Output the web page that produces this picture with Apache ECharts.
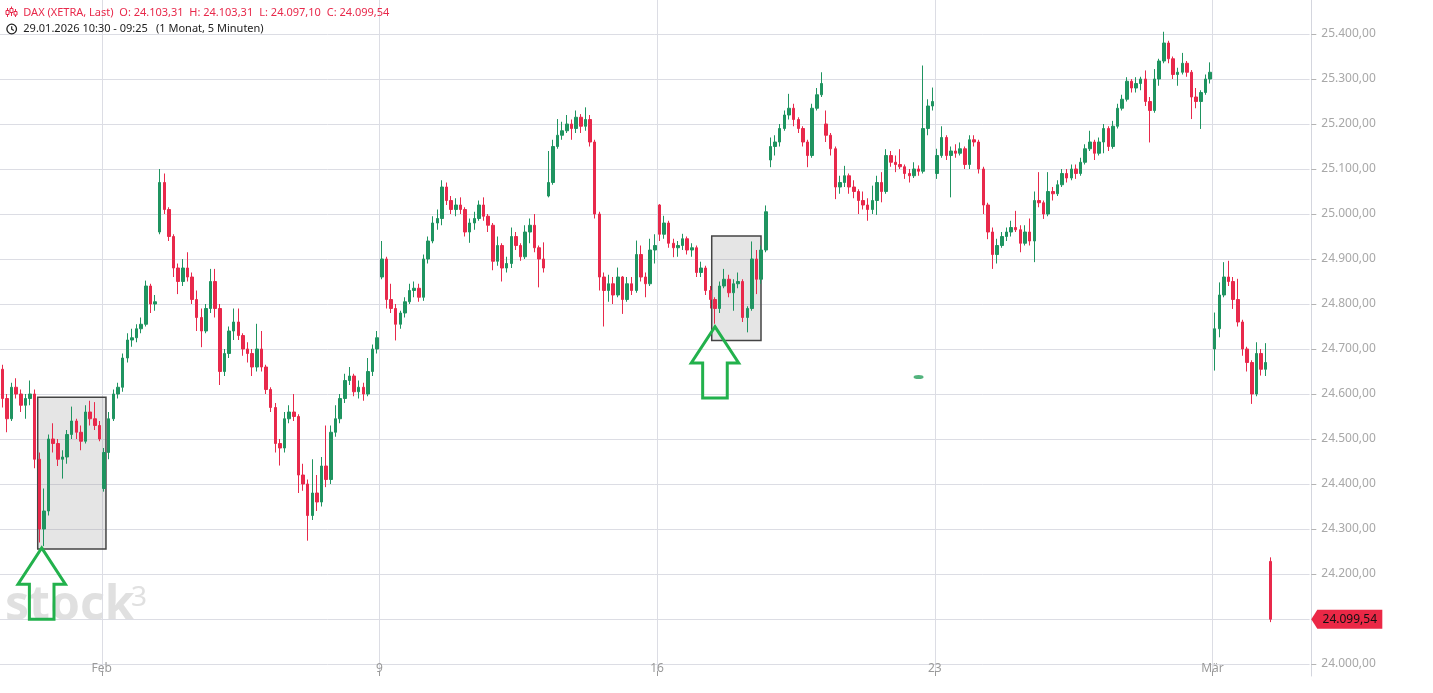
<!DOCTYPE html>
<html><head><meta charset="utf-8">
<script src="https://cdn.jsdelivr.net/npm/echarts@6/dist/echarts.min.js"></script>
<style>html,body{margin:0;padding:0;background:#fff;}#c{width:1433px;height:693px;}</style>
</head><body><div id="c"></div>
<script>
// ---- candle data: [open, close, low, high], ~42 minute candles ----
const d0129 = [[24655,24590,24570,24665],[24590,24545,24515,24600],[24545,24615,24540,24625],[24615,24600,24590,24635],[24600,24575,24560,24610],[24575,24590,24545,24600],[24590,24600,24575,24630],[24600,24455,24435,24610],[24455,24300,24270,24470],[24300,24340,24262,24390]];
const d0130 = [[24340,24500,24330,24510],[24500,24490,24470,24535],[24490,24455,24440,24500],[24455,24460,24412,24475],[24460,24510,24445,24520],[24510,24540,24500,24572],[24540,24515,24500,24545],[24515,24495,24475,24530],[24495,24560,24490,24575],[24560,24545,24530,24585],[24545,24530,24520,24582],[24530,24500,24495,24540]];
const d0202 = [[24390,24470,24383,24480],[24470,24545,24455,24560],[24545,24600,24540,24610],[24600,24615,24590,24625],[24615,24680,24605,24690],[24680,24720,24670,24735],[24720,24725,24705,24745],[24725,24745,24715,24755],[24745,24755,24735,24770],[24755,24840,24750,24852],[24840,24800,24780,24845],[24800,24805,24785,24820]];
const d0203 = [[24960,25070,24955,25100],[25070,25010,25000,25090],[25010,24950,24940,25015],[24950,24880,24860,24955],[24880,24850,24822,24890],[24850,24880,24840,24900],[24880,24860,24850,24915],[24860,24810,24800,24870],[24810,24770,24740,24830],[24770,24740,24704,24790],[24740,24790,24735,24800],[24790,24850,24780,24878]];
const d0204 = [[24850,24790,24770,24878],[24790,24650,24620,24800],[24650,24690,24640,24700],[24690,24740,24680,24750],[24740,24760,24720,24790],[24760,24730,24720,24790],[24730,24700,24685,24735],[24700,24690,24670,24715],[24690,24660,24640,24700],[24660,24700,24650,24756],[24700,24660,24650,24740],[24660,24610,24600,24665]];
const d0205 = [[24610,24570,24560,24615],[24570,24490,24470,24580],[24490,24480,24441,24500],[24480,24545,24470,24560],[24545,24560,24535,24575],[24560,24550,24540,24600],[24550,24420,24380,24555],[24420,24400,24385,24445],[24400,24330,24274,24410],[24330,24380,24320,24455],[24380,24360,24340,24420],[24360,24440,24350,24460]];
const d0206 = [[24440,24410,24393,24530],[24410,24515,24400,24530],[24515,24545,24505,24575],[24545,24590,24535,24600],[24590,24630,24580,24645],[24630,24640,24620,24660],[24640,24605,24595,24645],[24605,24615,24590,24630],[24615,24600,24585,24625],[24600,24650,24595,24680],[24650,24700,24640,24710],[24700,24725,24690,24740]];
const d0209 = [[24860,24900,24855,24940],[24900,24810,24790,24905],[24810,24790,24780,24845],[24790,24755,24719,24800],[24755,24780,24745,24785],[24780,24805,24770,24815],[24805,24830,24800,24845],[24830,24835,24815,24850],[24835,24815,24805,24845],[24815,24900,24807,24910],[24900,24940,24890,24950],[24940,24980,24935,24995]];
const d0210 = [[24980,24990,24965,25010],[24990,25060,24975,25075],[25060,25030,25020,25070],[25030,25010,25000,25040],[25010,25020,24995,25035],[25020,25010,25000,25037],[25010,24960,24950,25015],[24960,24980,24936,24990],[24980,24990,24965,25005],[24990,25020,24985,25030],[25020,24995,24985,25037],[24995,24975,24960,25000]];
const d0211 = [[24975,24895,24875,24980],[24895,24930,24885,24950],[24930,24880,24850,24935],[24880,24890,24870,24905],[24890,24950,24880,24970],[24950,24930,24920,24960],[24930,24905,24896,24935],[24905,24960,24900,24975],[24960,24975,24935,24990],[24975,24925,24915,25000],[24925,24900,24837,24930],[24900,24880,24870,24937]];
const d0212 = [[25040,25070,25037,25140],[25070,25150,25065,25165],[25150,25175,25145,25211],[25175,25185,25165,25205],[25185,25200,25180,25220],[25200,25190,25165,25210],[25190,25215,25180,25230],[25215,25195,25180,25222],[25195,25210,25185,25237],[25210,25160,25150,25220],[25160,25000,24990,25165],[25000,24860,24830,25005]];
const d0213 = [[24860,24830,24750,24870],[24830,24845,24805,24865],[24845,24820,24800,24860],[24820,24860,24815,24881],[24860,24810,24778,24862],[24810,24845,24805,24860],[24845,24830,24820,24860],[24830,24910,24825,24941],[24910,24860,24850,24930],[24860,24845,24815,24870],[24845,24920,24840,24945],[24920,24930,24890,24955]];
const d0216 = [[25020,24955,24940,25022],[24955,24980,24945,24996],[24980,24935,24925,24985],[24935,24925,24904,24945],[24925,24930,24905,24940],[24930,24945,24920,24956],[24945,24920,24910,24950],[24920,24925,24905,24935],[24925,24870,24860,24930],[24870,24880,24860,24894],[24880,24830,24820,24885],[24830,24810,24790,24840]];
const d0217 = [[24810,24790,24756,24815],[24790,24840,24780,24850],[24840,24855,24835,24878],[24855,24825,24815,24865],[24825,24845,24785,24855],[24845,24850,24835,24870],[24850,24770,24760,24855],[24770,24790,24737,24795],[24790,24900,24785,24939],[24900,24855,24822,24920],[24855,24920,24845,24930],[24920,25005,24915,25019]];
const d0218 = [[25120,25150,25104,25170],[25150,25160,25130,25175],[25160,25190,25150,25200],[25190,25220,25185,25230],[25220,25235,25210,25267],[25235,25210,25195,25245],[25210,25190,25180,25215],[25190,25160,25150,25195],[25160,25130,25104,25165],[25130,25235,25125,25245],[25235,25265,25230,25280],[25265,25290,25260,25315]];
const d0219 = [[25200,25175,25160,25230],[25175,25145,25130,25180],[25145,25060,25033,25150],[25060,25070,25045,25085],[25070,25085,25060,25107],[25085,25060,25045,25090],[25060,25050,25035,25075],[25050,25030,25000,25055],[25030,25020,25010,25050],[25020,25010,24985,25035],[25010,25030,25000,25063],[25030,25070,24998,25085]];
const d0220 = [[25070,25050,25026,25093],[25050,25130,25045,25144],[25130,25115,25105,25140],[25115,25110,25093,25130],[25110,25105,25100,25144],[25105,25090,25078,25110],[25090,25085,25070,25100],[25085,25100,25080,25115],[25100,25095,25085,25108],[25095,25190,25090,25330],[25190,25240,25175,25255],[25240,25250,25230,25281]];
const d0223 = [[25090,25130,25078,25145],[25130,25170,25125,25195],[25170,25130,25120,25175],[25130,25140,25037,25150],[25140,25135,25125,25155],[25135,25145,25130,25159],[25145,25110,25100,25150],[25110,25165,25100,25175],[25165,25160,25150,25175],[25160,25100,25090,25165],[25100,25020,25000,25105],[25020,24960,24944,25025]];
const d0224 = [[24960,24910,24878,24970],[24910,24930,24890,24945],[24930,24950,24925,24960],[24950,24960,24940,24970],[24960,24970,24950,24985],[24970,24965,24960,25007],[24965,24935,24915,24975],[24935,24960,24930,24975],[24960,24940,24930,24990],[24940,25030,24893,25050],[25030,25025,25015,25093],[25025,25000,24989,25030]];
const d0225 = [[25000,25050,24995,25093],[25050,25045,25030,25060],[25045,25065,25040,25075],[25065,25090,25060,25100],[25090,25080,25070,25100],[25080,25100,25075,25110],[25100,25090,25078,25110],[25090,25115,25085,25125],[25115,25145,25110,25155],[25145,25160,25140,25185],[25160,25135,25120,25165],[25135,25160,25130,25170]];
const d0226 = [[25160,25190,25135,25200],[25190,25150,25140,25195],[25150,25195,25145,25207],[25195,25235,25190,25245],[25235,25255,25230,25265],[25255,25295,25250,25304],[25295,25280,25270,25300],[25280,25290,25270,25304],[25290,25300,25275,25305],[25300,25250,25240,25319],[25250,25230,25159,25260],[25230,25300,25225,25322]];
const d0227 = [[25300,25340,25285,25345],[25340,25380,25335,25405],[25380,25345,25335,25385],[25345,25310,25300,25350],[25310,25315,25285,25325],[25315,25335,25310,25358],[25335,25315,25305,25340],[25315,25260,25211,25320],[25260,25250,25235,25280],[25250,25270,25189,25275],[25270,25300,25265,25310],[25300,25315,25290,25337]];
const d0302 = [[24700,24745,24652,24781],[24745,24820,24726,24848],[24820,24860,24815,24893],[24860,24850,24840,24896],[24850,24810,24789,24860],[24810,24760,24750,24856],[24760,24700,24685,24765],[24700,24670,24650,24705],[24670,24600,24578,24675],[24600,24690,24595,24715],[24690,24655,24641,24700],[24655,24670,24640,24713]];
const d0303 = [[24228,24099.54,24093,24237]];

const dayNames = ['29.01.','30.01.','02.02.','03.02.','04.02.','05.02.','06.02.','09.02.','10.02.','11.02.','12.02.','13.02.','16.02.','17.02.','18.02.','19.02.','20.02.','23.02.','24.02.','25.02.','26.02.','27.02.','02.03.','03.03.'];
const dayData = [d0129,d0130,d0202,d0203,d0204,d0205,d0206,d0209,d0210,d0211,d0212,d0213,d0216,d0217,d0218,d0219,d0220,d0223,d0224,d0225,d0226,d0227,d0302,d0303];

// x-axis tick labels
const xLabelDays = ['02.02.','09.02.','16.02.','23.02.','02.03.'];
const xLabelTexts = ['Feb','9','16','23','Mär'];

// header (last 5-minute candle) and range text
const headerTitle = 'DAX (XETRA, Last)';
const headerOHLC = [24103.31, 24103.31, 24097.10, 24099.54];
const headerRange = '29.01.2026 10:30 - 09:25';
const headerPeriod = '(1 Monat, 5 Minuten)';

// annotations: boxes [fromSlot, toSlot, topPrice, bottomPrice], arrows [tipSlot, tipPrice], stray tick [slot, price]
const boxes = [[7.65, 22.4, 24592.7, 24255.6],[153.3, 163.95, 24951, 24719]];
const arrows = [[8.51, 24258],[154.0, 24749.6]];
const strayTicks = [[198, 24638]];

// ---- build ----
const candles = [], cats = [];
dayData.forEach((d, i) => d.forEach((c, k) => { candles.push(c); cats.push(dayNames[i] + ' ' + k); }));
const TOTAL_SLOTS = 283;
let p = 0; while (cats.length < TOTAL_SLOTS) cats.push('pad ' + (p++));
const catsB = cats.concat(['pad end']);
const lastClose = candles[candles.length - 1][1];

function fmtDE(v) {
  const s = Number(v).toFixed(2); const parts = s.split('.');
  return parts[0].replace(/\B(?=(\d{3})+(?!\d))/g, '.') + ',' + parts[1];
}
function isLabelCat(name) { const a = name.split(' '); return a[1] === '0' && xLabelDays.indexOf(a[0]) >= 0; }

const UP = '#1f9460', DOWN = '#e8294b', RED_TXT = '#e8294b', GRIDC = '#dcdde4';
const PLOT_W = 1309.6;

function fracCoord(api, xv, yv) {
  const i = Math.floor(xv);
  const pt = api.coord([i, yv]);
  const bw = api.size([1, 0])[0];
  return [pt[0] + (xv - i) * bw, pt[1]];
}

const chart = echarts.init(document.getElementById('c'), null, {renderer: 'canvas'});
const FONT = '"Noto Sans", "Open Sans", sans-serif';

const option = {
  animation: false,
  backgroundColor: '#ffffff',
  grid: [
    {left: 0, width: PLOT_W, top: 34, height: 630, containLabel: false},
    {left: 0, width: PLOT_W, top: 0, height: 676, containLabel: false}
  ],
  xAxis: [
    {type: 'category', gridIndex: 0, data: cats, boundaryGap: true, show: false},
    {type: 'category', gridIndex: 1, data: catsB, boundaryGap: false,
     axisLine: {show: false},
     axisTick: {show: true, inside: true, length: 5, interval: (i, v) => isLabelCat(v), lineStyle: {color: '#9a9a9a'}},
     axisLabel: {show: true, inside: true, margin: 1, interval: (i, v) => isLabelCat(v),
       formatter: v => xLabelTexts[xLabelDays.indexOf(v.split(' ')[0])],
       color: '#9a9a9a', fontSize: 12, fontFamily: FONT},
     splitLine: {show: true, interval: (i, v) => isLabelCat(v), lineStyle: {color: GRIDC, width: 1}}
    }
  ],
  yAxis: [
    {type: 'value', gridIndex: 0, position: 'right', offset: 1.7, min: 24000, max: 25400, interval: 100,
     axisLine: {show: false},
     axisTick: {show: true, length: 5, lineStyle: {color: '#b4b4b4'}},
     axisLabel: {margin: 10, color: '#a8a8a8', fontSize: 12, fontFamily: FONT, padding: [4, 0, 0, 0], formatter: v => fmtDE(v)},
     splitLine: {show: true, lineStyle: {color: GRIDC, width: 1}}
    },
    {type: 'value', gridIndex: 1, position: 'right', offset: 1.7, min: 0, max: 1,
     axisLine: {show: true, lineStyle: {color: '#d4d6de'}},
     axisTick: {show: false}, axisLabel: {show: false}, splitLine: {show: false}
    }
  ],
  graphic: [
    // watermark
    {type: 'text', x: 5, y: 606, z: 0, silent: true, style: {text: 'stock', fill: '#e0e0e0', font: 'bold 48px ' + FONT, textVerticalAlign: 'middle'}},
    {type: 'text', x: 131, y: 598, z: 0, silent: true, style: {text: '3', fill: '#e0e0e0', font: '28px ' + FONT, textVerticalAlign: 'middle'}},
    // header icon (candles)
    {type: 'group', x: 6, y: 6, z: 10, children: [
      {type: 'line', shape: {x1: 1.5, y1: 2, x2: 1.5, y2: 11}, style: {stroke: RED_TXT, lineWidth: 1}},
      {type: 'rect', shape: {x: 0, y: 4.5, width: 3, height: 4}, style: {fill: '#fff', stroke: RED_TXT, lineWidth: 1}},
      {type: 'line', shape: {x1: 5.5, y1: 0.5, x2: 5.5, y2: 10}, style: {stroke: RED_TXT, lineWidth: 1}},
      {type: 'rect', shape: {x: 4, y: 2.5, width: 3, height: 4}, style: {fill: '#fff', stroke: RED_TXT, lineWidth: 1}},
      {type: 'line', shape: {x1: 9.5, y1: 3, x2: 9.5, y2: 11}, style: {stroke: RED_TXT, lineWidth: 1}},
      {type: 'rect', shape: {x: 8, y: 5.5, width: 3, height: 3.5}, style: {fill: '#fff', stroke: RED_TXT, lineWidth: 1}}
    ]},
    {type: 'text', x: 23.3, y: 13, z: 10, style: {text: headerTitle, fill: RED_TXT, font: '11px ' + FONT, textVerticalAlign: 'middle'}},
    {type: 'text', x: 119.3, y: 13, z: 10, style: {text: 'O: ' + fmtDE(headerOHLC[0]), fill: RED_TXT, font: '11px ' + FONT, textVerticalAlign: 'middle'}},
    {type: 'text', x: 189.3, y: 13, z: 10, style: {text: 'H: ' + fmtDE(headerOHLC[1]), fill: RED_TXT, font: '11px ' + FONT, textVerticalAlign: 'middle'}},
    {type: 'text', x: 259.3, y: 13, z: 10, style: {text: 'L: ' + fmtDE(headerOHLC[2]), fill: RED_TXT, font: '11px ' + FONT, textVerticalAlign: 'middle'}},
    {type: 'text', x: 326.7, y: 13, z: 10, style: {text: 'C: ' + fmtDE(headerOHLC[3]), fill: RED_TXT, font: '11px ' + FONT, textVerticalAlign: 'middle'}},
    // clock icon
    {type: 'circle', z: 10, shape: {cx: 11.7, cy: 29, r: 4.8}, style: {fill: 'none', stroke: '#222', lineWidth: 1.3}},
    {type: 'polyline', z: 10, shape: {points: [[11.7, 26.2], [11.7, 29.2], [13.8, 30.6]]}, style: {fill: 'none', stroke: '#222', lineWidth: 1.2}},
    {type: 'text', x: 23.3, y: 29, z: 10, style: {text: headerRange, fill: '#222', font: '11px ' + FONT, textVerticalAlign: 'middle'}},
    {type: 'text', x: 156, y: 29, z: 10, style: {text: headerPeriod, fill: '#222', font: '11px ' + FONT, textVerticalAlign: 'middle'}}
  ],
  series: [
    {type: 'custom', xAxisIndex: 0, yAxisIndex: 0, z: 1, silent: true, clip: false,
     data: boxes, encode: {x: [0, 1], y: [2, 3]},
     renderItem: (params, api) => {
       const p0 = fracCoord(api, api.value(0), api.value(2));
       const p1 = fracCoord(api, api.value(1), api.value(3));
       return {type: 'rect', shape: {x: p0[0], y: p0[1], width: p1[0] - p0[0], height: p1[1] - p0[1]},
         style: {fill: 'rgba(150,150,150,0.25)', stroke: '#444', lineWidth: 1.5}};
     }},
    {type: 'candlestick', xAxisIndex: 0, yAxisIndex: 0, z: 3, data: candles, barWidth: 3, clip: false,
     itemStyle: {color: UP, color0: DOWN, borderColor: UP, borderColor0: DOWN, borderWidth: 1},
     markPoint: {
       symbol: 'path://M0,9.5L6,0L71,0L71,19L6,19Z', symbolSize: [71, 19], symbolKeepAspect: false,
       symbolOffset: [39.5, 0], silent: true,
       itemStyle: {color: '#eb2846'},
       label: {show: true, position: 'inside', offset: [3, 0], color: '#111', fontSize: 12, fontFamily: FONT, formatter: () => fmtDE(lastClose)},
       data: [{coord: [cats[TOTAL_SLOTS - 1], lastClose]}]
     }},
    {type: 'scatter', xAxisIndex: 0, yAxisIndex: 0, z: 4, silent: true, data: strayTicks,
     symbol: 'circle', symbolSize: [10, 4], itemStyle: {color: '#27a05c'}},
    {type: 'custom', xAxisIndex: 0, yAxisIndex: 0, z: 5, silent: true, clip: false,
     data: arrows, encode: {x: 0, y: 1},
     renderItem: (params, api) => {
       const t = fracCoord(api, api.value(0), api.value(1));
       const hw = 23.7, hh = 36.3, sw = 12.3, H = 71.3;
       const pts = [[0, 0], [hw, hh], [sw, hh], [sw, H], [-sw, H], [-sw, hh], [-hw, hh]].map(q => [t[0] + q[0], t[1] + q[1]]);
       return {type: 'polygon', shape: {points: pts}, style: {fill: 'none', stroke: '#22b14c', lineWidth: 3, lineJoin: 'miter'}};
     }},
    {type: 'line', xAxisIndex: 1, yAxisIndex: 1, data: [], silent: true}
  ]
};
chart.setOption(option);
</script></body></html>
